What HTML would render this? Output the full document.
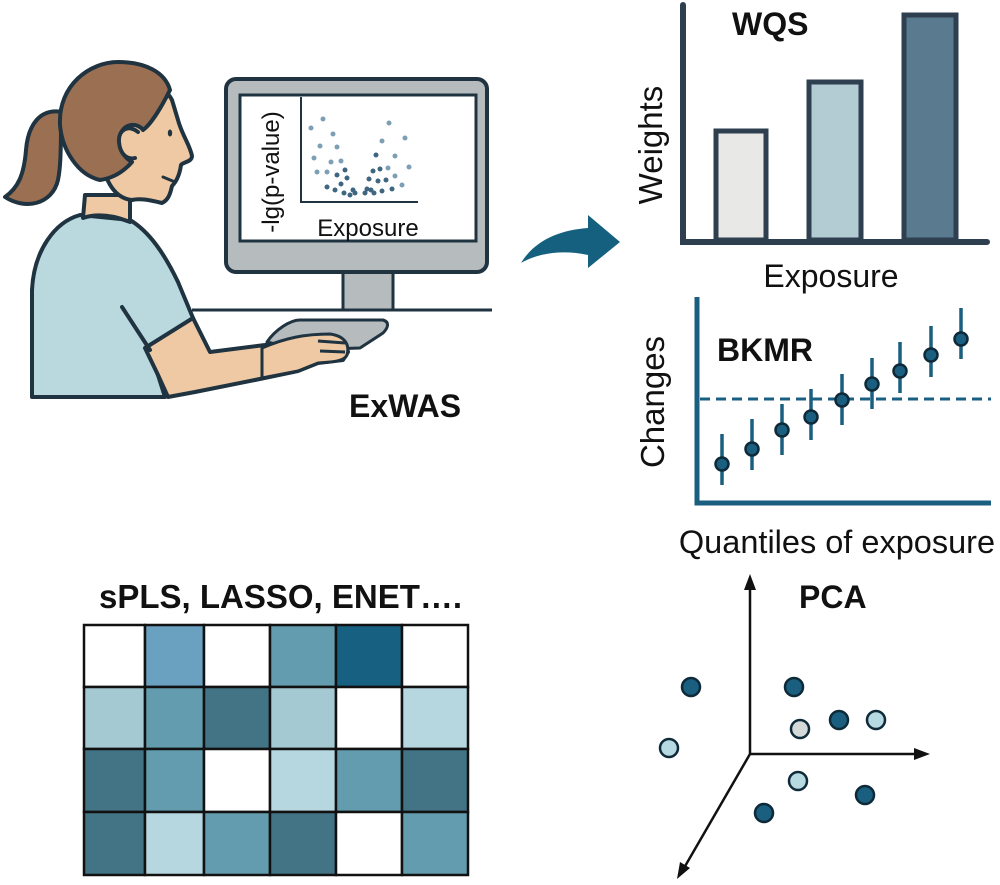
<!DOCTYPE html>
<html><head><meta charset="utf-8"><style>
html,body{margin:0;padding:0;background:#fff;}
svg{display:block;}
text{font-family:"Liberation Sans",Arial,sans-serif;}
</style></head><body>
<svg width="1000" height="885" viewBox="0 0 1000 885" xmlns="http://www.w3.org/2000/svg">
<g stroke="#1f3340" stroke-width="4" stroke-linejoin="round" stroke-linecap="round">
  <path d="M62,112 C40,108 28,125 26,150 C24,175 18,188 5,197 C25,210 52,205 58,180 C62,160 60,135 62,112 Z" fill="#9b6f52"/>
  <path d="M32,397 L32,290 C34,250 55,222 80,215 L130,220 C150,232 165,255 178,282 L193,318 L150,350 L165,397 Z" fill="#b9d9df"/>
  <path d="M145,348 L193,318 L210,352 L265,345 L320,335 L345,340 L348,352 L343,360 L318,363 L298,371 L255,380 L195,392 L168,397 L158,375 Z" fill="#efc9a4"/>
  <path d="M122,307 L150,350" fill="none"/>
  <path d="M83,218 L85,195 L130,195 L130,222 C110,214 95,214 83,218 Z" fill="#efc9a4"/>
  <path d="M110,100 C140,80 165,85 172,100 L178,120 C182,135 190,145 192,156 C192,162 183,162 181,165 C180,172 178,180 172,186 C170,195 168,200 162,203 C150,200 140,198 132,200 C110,198 100,170 100,140 Z" fill="#efc9a4"/>
  <path d="M60,125 C58,85 90,62 118,62 C145,62 165,72 170,90 C160,110 150,125 143,130 C138,123 125,122 120,135 C118,150 125,158 132,162 C125,170 115,178 100,180 C78,175 62,150 60,125 Z" fill="#9b6f52"/>
  <path d="M138,132 C128,124 118,130 119,142 C120,155 128,160 135,158" fill="#efc9a4"/>
</g>
<ellipse cx="170" cy="133" rx="2.2" ry="3.5" fill="#1f3340"/>
<path d="M163,177 L175,182" stroke="#1f3340" stroke-width="3" stroke-linecap="round"/>

<rect x="343" y="270" width="50" height="40" fill="#b6bcbe" stroke="#1f3340" stroke-width="3"/>
<rect x="226" y="79" width="261" height="193" rx="10" fill="#b6bcbe" stroke="#1f3340" stroke-width="4"/>
<rect x="240" y="95" width="236" height="146" fill="#fff" stroke="#1f3340" stroke-width="3"/>
<line x1="192" y1="310" x2="492" y2="310" stroke="#1f3340" stroke-width="3"/>
<path d="M301,97 L301,202 L418,202" fill="none" stroke="#1f3340" stroke-width="2"/>
<text x="0" y="0" font-size="24" fill="#111" transform="translate(279,172) rotate(-90)" text-anchor="middle">-lg(p-value)</text>
<text x="368" y="236" font-size="24" fill="#111" text-anchor="middle">Exposure</text>
<g fill="#7c9fb5">
<circle cx="311" cy="128" r="2.5"/><circle cx="323" cy="119" r="2.5"/><circle cx="333" cy="134" r="2.5"/><circle cx="320" cy="146" r="2.5"/><circle cx="337" cy="147" r="2.5"/><circle cx="314" cy="158" r="2.5"/><circle cx="331" cy="162" r="2.5"/><circle cx="341" cy="161" r="2.5"/><circle cx="317" cy="172" r="2.5"/><circle cx="327" cy="172" r="2.5"/>
<circle cx="389" cy="123" r="2.5"/><circle cx="405" cy="138" r="2.5"/><circle cx="382" cy="141" r="2.5"/><circle cx="395" cy="156" r="2.5"/><circle cx="409" cy="167" r="2.5"/><circle cx="395" cy="176" r="2.5"/><circle cx="402" cy="185" r="2.5"/><circle cx="388" cy="168" r="2.5"/>
</g>
<g fill="#3f6680">
<circle cx="345" cy="170" r="2.5"/><circle cx="337" cy="175" r="2.5"/><circle cx="347" cy="178" r="2.5"/><circle cx="341" cy="184" r="2.5"/><circle cx="327" cy="187" r="2.5"/><circle cx="335" cy="190" r="2.5"/><circle cx="344" cy="193" r="2.5"/><circle cx="350" cy="195" r="2.5"/><circle cx="353" cy="190" r="2.5"/><circle cx="355" cy="193" r="2.5"/><circle cx="365" cy="193" r="2.5"/><circle cx="367" cy="189" r="2.5"/><circle cx="371" cy="190" r="2.5"/><circle cx="374" cy="193" r="2.5"/><circle cx="382" cy="191" r="2.5"/><circle cx="392" cy="189" r="2.5"/><circle cx="369" cy="179" r="2.5"/><circle cx="378" cy="181" r="2.5"/><circle cx="386" cy="180" r="2.5"/><circle cx="373" cy="171" r="2.5"/><circle cx="380" cy="169" r="2.5"/><circle cx="376" cy="155" r="2.5"/>
</g>
<path d="M267,342 C275,330 290,320 300,320 L383,320 C390,322 388,328 383,333 L360,348 L300,350 Z" fill="#b6bcbe" stroke="#1f3340" stroke-width="3" stroke-linejoin="round"/>
<path d="M262,348 C285,338 305,334 330,334 C345,336 350,345 347,355 C344,362 330,362 318,363 L298,371 L262,378 Z" fill="#efc9a4" stroke="#1f3340" stroke-width="3" stroke-linejoin="round"/>
<path d="M318,341 L345,343 M320,351 L345,352" stroke="#1f3340" stroke-width="3"/>
<text x="349" y="417" font-size="32" font-weight="bold" fill="#111">ExWAS</text>

<path d="M521,263 C535,240 560,230 588,228 L588,215 L620,242 L588,268 L588,255 C565,250 540,252 521,263 Z" fill="#16607f"/>

<rect x="716" y="131" width="50" height="109" fill="#e8e8e6" stroke="#2e3f4f" stroke-width="5"/>
<rect x="809" y="82" width="52" height="158" fill="#b3cbd3" stroke="#2e3f4f" stroke-width="5"/>
<rect x="904" y="15" width="52" height="225" fill="#5a7a90" stroke="#2e3f4f" stroke-width="5"/>
<path d="M683,5 L683,242 L987,242" fill="none" stroke="#2e3f4f" stroke-width="6" stroke-linecap="round"/>
<text x="732" y="35" font-size="32" font-weight="bold" fill="#111">WQS</text>
<text font-size="33" fill="#111" transform="translate(662,145) rotate(-90)" text-anchor="middle">Weights</text>
<text x="831" y="287" font-size="32" fill="#111" text-anchor="middle">Exposure</text>

<path d="M697,297 L697,503 L991,503" fill="none" stroke="#1a5e80" stroke-width="5"/>
<line x1="700" y1="399" x2="991" y2="399" stroke="#1a5e80" stroke-width="3" stroke-dasharray="10,6"/>
<g stroke="#1a5e80" stroke-width="3.5">
<line x1="722" y1="434" x2="722" y2="485"/><line x1="752" y1="419" x2="752" y2="470"/><line x1="782" y1="404" x2="782" y2="455"/><line x1="811" y1="389" x2="811" y2="440"/><line x1="842" y1="374" x2="842" y2="425"/><line x1="872" y1="358" x2="872" y2="409"/><line x1="900" y1="342" x2="900" y2="393"/><line x1="931" y1="326" x2="931" y2="377"/><line x1="961" y1="308" x2="961" y2="359"/>
</g>
<g fill="#1a5e80" stroke="#0e2a38" stroke-width="2.5">
<circle cx="722" cy="464" r="6.5"/><circle cx="752" cy="449" r="6.5"/><circle cx="782" cy="430" r="6.5"/><circle cx="811" cy="417" r="6.5"/><circle cx="842" cy="400" r="6.5"/><circle cx="872" cy="384" r="6.5"/><circle cx="900" cy="371" r="6.5"/><circle cx="931" cy="355" r="6.5"/><circle cx="961" cy="339" r="6.5"/>
</g>
<text x="717" y="361" font-size="32" font-weight="bold" fill="#111">BKMR</text>
<text font-size="33" fill="#111" transform="translate(664,402) rotate(-90)" text-anchor="middle">Changes</text>
<text x="837" y="553" font-size="32.5" fill="#111" text-anchor="middle">Quantiles of exposure</text>

<g stroke="#111" stroke-width="2.5" fill="none">
<path d="M750,754 L750,585 M750,754 L920,754 M750,754 L684,868"/>
</g>
<g fill="#111">
<polygon points="750,574 744,590 756,590"/>
<polygon points="930,754 914,748 914,760"/>
<polygon points="677,879 680,862 690,868"/>
</g>
<g stroke="#0e2a38" stroke-width="2.5">
<circle cx="691" cy="687" r="9" fill="#1a5e80"/><circle cx="669" cy="748" r="9" fill="#b7d9e2"/><circle cx="794" cy="687" r="9" fill="#1a5e80"/><circle cx="800" cy="729" r="9" fill="#d5dad8"/><circle cx="839" cy="720" r="9" fill="#1a5e80"/><circle cx="876" cy="720" r="9" fill="#b7d9e2"/><circle cx="798" cy="781" r="9" fill="#b7d9e2"/><circle cx="764" cy="813" r="9" fill="#1a5e80"/><circle cx="865" cy="795" r="9" fill="#1a5e80"/>
</g>
<text x="799" y="608" font-size="32" font-weight="bold" fill="#111">PCA</text>

<text x="99" y="608" font-size="33" font-weight="bold" fill="#111">sPLS, LASSO, ENET….</text>
<g stroke="#111" stroke-width="2.5">
<rect x="84" y="625" width="61" height="62" fill="#fff"/><rect x="145" y="625" width="59" height="62" fill="#6aa0c0"/><rect x="204" y="625" width="66" height="62" fill="#fff"/><rect x="270" y="625" width="66" height="62" fill="#629cae"/><rect x="336" y="625" width="66" height="62" fill="#176082"/><rect x="402" y="625" width="66" height="62" fill="#fff"/>
<rect x="84" y="687" width="61" height="62" fill="#a5c9d3"/><rect x="145" y="687" width="59" height="62" fill="#629cae"/><rect x="204" y="687" width="66" height="62" fill="#437486"/><rect x="270" y="687" width="66" height="62" fill="#a5c9d3"/><rect x="336" y="687" width="66" height="62" fill="#fff"/><rect x="402" y="687" width="66" height="62" fill="#b6d7e0"/>
<rect x="84" y="749" width="61" height="63" fill="#437486"/><rect x="145" y="749" width="59" height="63" fill="#629cae"/><rect x="204" y="749" width="66" height="63" fill="#fff"/><rect x="270" y="749" width="66" height="63" fill="#b6d7e0"/><rect x="336" y="749" width="66" height="63" fill="#629cae"/><rect x="402" y="749" width="66" height="63" fill="#437486"/>
<rect x="84" y="812" width="61" height="63" fill="#437486"/><rect x="145" y="812" width="59" height="63" fill="#b6d7e0"/><rect x="204" y="812" width="66" height="63" fill="#629cae"/><rect x="270" y="812" width="66" height="63" fill="#437486"/><rect x="336" y="812" width="66" height="63" fill="#fff"/><rect x="402" y="812" width="66" height="63" fill="#629cae"/>
</g>
</svg>
</body></html>
